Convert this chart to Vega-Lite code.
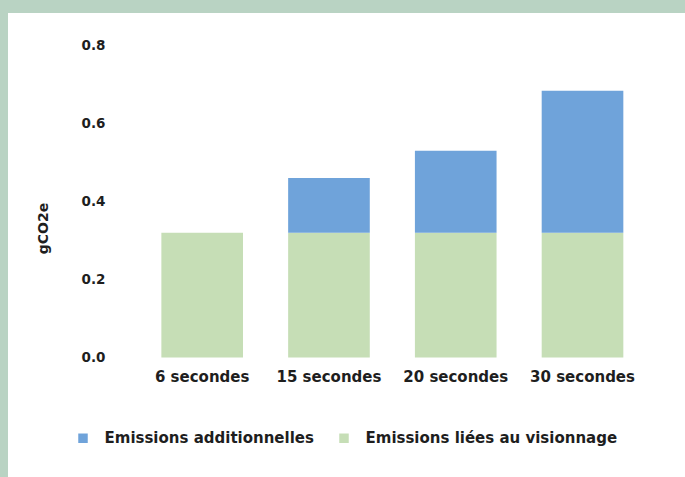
{
  "$schema": "https://vega.github.io/schema/vega-lite/v6.json",
  "autosize": "none",
  "padding": {"left": 8, "top": 13, "right": 0, "bottom": 0},
  "width": 677,
  "height": 464,
  "background": "#b9d3c3",
  "config": {
    "view": {"fill": "#ffffff", "stroke": null},
    "font": "DejaVu Sans",
    "axis": {"labelFont": "DejaVu Sans", "titleFont": "DejaVu Sans", "labelColor": "#1e1e1e", "titleColor": "#1e1e1e"},
    "legend": {"labelFont": "DejaVu Sans", "labelColor": "#1e1e1e"}
  },
  "data": {
    "values": [
      {"duree": "6 secondes", "type": "Emissions liées au visionnage", "gCO2e": 0.32},
      {"duree": "15 secondes", "type": "Emissions liées au visionnage", "gCO2e": 0.32},
      {"duree": "15 secondes", "type": "Emissions additionnelles", "gCO2e": 0.14},
      {"duree": "20 secondes", "type": "Emissions liées au visionnage", "gCO2e": 0.32},
      {"duree": "20 secondes", "type": "Emissions additionnelles", "gCO2e": 0.21},
      {"duree": "30 secondes", "type": "Emissions liées au visionnage", "gCO2e": 0.32},
      {"duree": "30 secondes", "type": "Emissions additionnelles", "gCO2e": 0.364}
    ]
  },
  "mark": {"type": "bar"},
  "encoding": {
    "x": {
      "field": "duree",
      "type": "nominal",
      "sort": ["6 secondes", "15 secondes", "20 secondes", "30 secondes"],
      "scale": {"range": [130.8, 637.9], "paddingInner": 0.356, "paddingOuter": 0.178},
      "axis": {
        "title": null,
        "orient": "bottom",
        "offset": -119.5,
        "domain": false,
        "ticks": false,
        "tickSize": 0,
        "labelPadding": 12,
        "labelAngle": 0,
        "labelFontSize": 15,
        "labelFontWeight": "bold"
      }
    },
    "y": {
      "field": "gCO2e",
      "type": "quantitative",
      "stack": "zero",
      "scale": {"domain": [0, 0.8], "range": [344.5, 32.5], "nice": false},
      "axis": {
        "title": "gCO2e",
        "values": [0, 0.2, 0.4, 0.6, 0.8],
        "format": ".1f",
        "offset": -99,
        "domain": false,
        "ticks": false,
        "tickSize": 0,
        "grid": false,
        "labelPadding": 2,
        "labelFontSize": 13.5,
        "labelFontWeight": "bold",
        "titleFontSize": 14,
        "titleFontWeight": "bold",
        "titleAngle": -90,
        "titleAlign": "center",
        "titleBaseline": "middle",
        "titleX": -64,
        "titleY": 215
      }
    },
    "color": {
      "field": "type",
      "type": "nominal",
      "scale": {
        "domain": ["Emissions additionnelles", "Emissions liées au visionnage"],
        "range": ["#6fa3da", "#c6deb6"]
      },
      "legend": {
        "title": null,
        "orient": "none",
        "direction": "horizontal",
        "legendX": 67.5,
        "legendY": 417.5,
        "padding": 0,
        "symbolType": "square",
        "symbolSize": 90,
        "symbolStrokeWidth": 0,
        "labelFontSize": 15,
        "labelFontWeight": "bold",
        "labelLimit": 0,
        "labelOffset": 14,
        "columnPadding": 22
      }
    },
    "order": {"field": "type", "sort": "descending"}
  }
}
